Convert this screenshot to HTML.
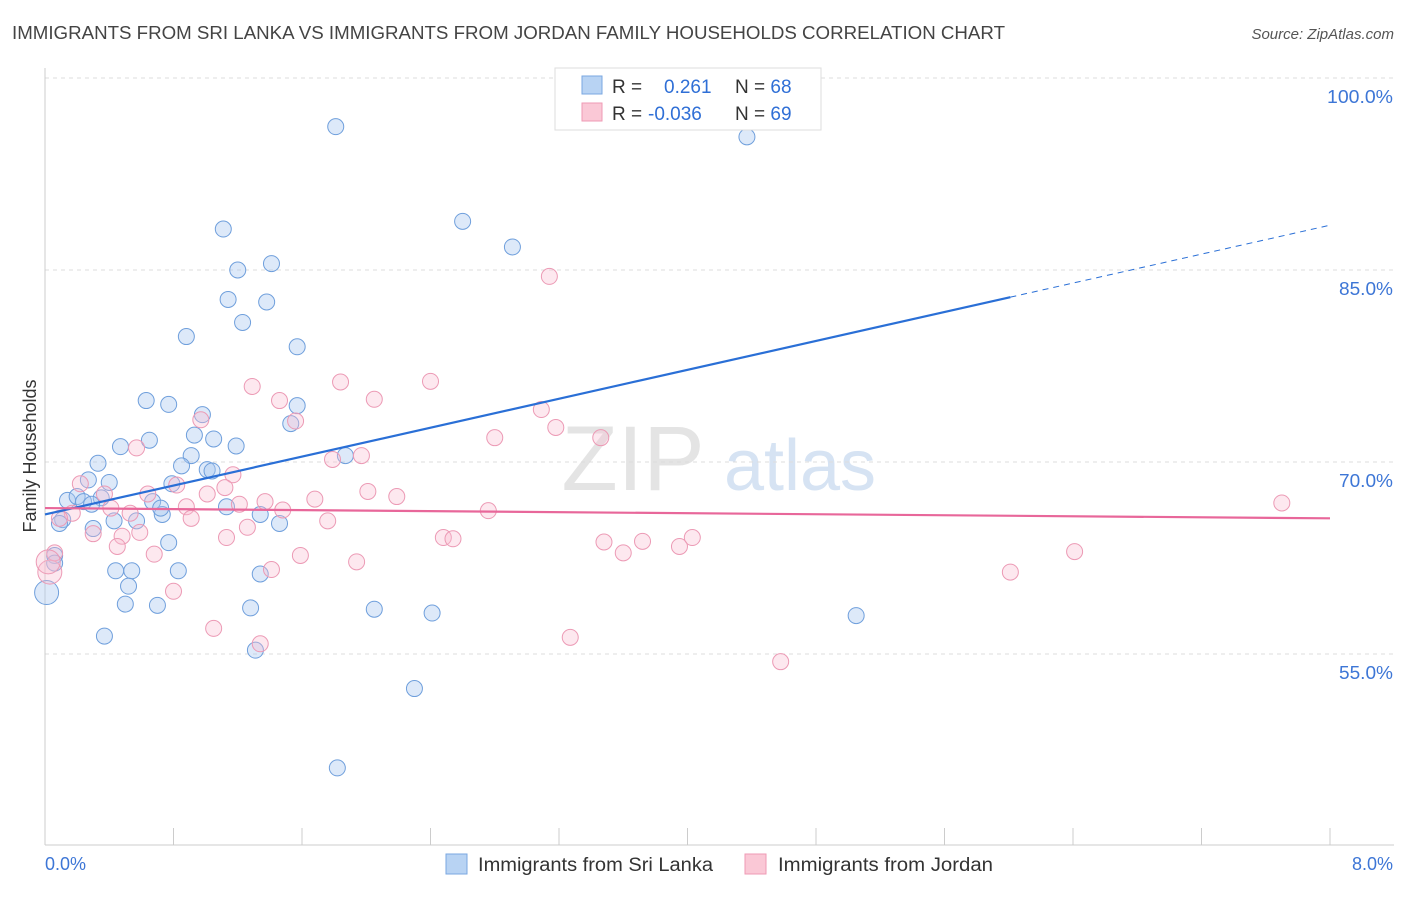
<!DOCTYPE html>
<html><head><meta charset="utf-8">
<style>
body{margin:0;background:#fff;font-family:"Liberation Sans",sans-serif;}
svg text{font-family:"Liberation Sans",sans-serif;}
</style></head>
<body>
<svg id="chart" width="1406" height="892">
<text x="12" y="39" font-size="18" fill="#444" textLength="993" lengthAdjust="spacingAndGlyphs">IMMIGRANTS FROM SRI LANKA VS IMMIGRANTS FROM JORDAN FAMILY HOUSEHOLDS CORRELATION CHART</text>
<text x="1394" y="39" font-size="15" fill="#555" text-anchor="end" font-style="italic">Source: ZipAtlas.com</text>
<text x="36" y="456" font-size="18" fill="#333" text-anchor="middle" transform="rotate(-90 36 456)">Family Households</text>
<g><text x="633" y="490" font-size="92" fill="#e4e4e4" font-family="Liberation Serif" text-anchor="middle">ZIP</text><text x="800" y="490" font-size="72" fill="#d6e3f3" text-anchor="middle">atlas</text></g>
<g id="grid"></g><g id="axes"></g><g id="pts"></g><g id="lines"></g>
<g>
<rect x="555" y="68" width="266" height="62" fill="#fff" stroke="#ddd"/>
<rect x="582" y="76" width="20" height="18" fill="#b8d3f3" stroke="#7aa7e0"/>
<rect x="582" y="103" width="20" height="18" fill="#fac8d6" stroke="#ef9ab4"/>
<text x="612" y="93" font-size="19" fill="#333">R = <tspan fill="#2f6fd6" x="664">0.261</tspan><tspan x="735" fill="#333">N = </tspan><tspan fill="#2f6fd6">68</tspan></text>
<text x="612" y="120" font-size="19" fill="#333">R = <tspan fill="#2f6fd6" x="648">-0.036</tspan><tspan x="735" fill="#333">N = </tspan><tspan fill="#2f6fd6">69</tspan></text>
</g>
<g>
<rect x="446" y="854" width="21" height="20" fill="#b8d3f3" stroke="#7aa7e0"/>
<text x="478" y="871" font-size="19" fill="#333" textLength="235" lengthAdjust="spacingAndGlyphs">Immigrants from Sri Lanka</text>
<rect x="745" y="854" width="21" height="20" fill="#fac8d6" stroke="#ef9ab4"/>
<text x="778" y="871" font-size="19" fill="#333" textLength="215" lengthAdjust="spacingAndGlyphs">Immigrants from Jordan</text>
</g>
</svg>
<script>
const blueX=[1.81,4.37,2.60,2.91,1.11,1.41,1.20,1.14,1.38,1.23,0.88,1.57,0.63,0.77,0.98,1.57,1.53,0.65,0.93,1.05,1.19,0.47,0.33,0.91,0.85,1.01,1.04,1.87,0.40,0.27,0.79,0.14,0.20,0.24,0.35,0.67,0.73,0.72,0.57,0.43,0.11,0.09,0.29,1.13,1.34,1.46,0.30,0.77,0.06,0.06,0.01,0.44,0.54,0.83,1.34,0.52,0.50,0.70,1.28,2.05,2.41,5.05,0.37,1.31,2.30,1.82];
const blueY=[96.2,95.4,88.8,86.8,88.2,85.5,85.0,82.7,82.5,80.9,79.8,79.0,74.8,74.5,73.7,74.4,73.0,71.7,72.1,71.8,71.25,71.2,69.9,70.5,69.7,69.4,69.3,70.5,68.4,68.6,68.3,67.0,67.3,66.9,67.2,66.9,65.9,66.4,65.4,65.4,65.5,65.2,66.7,66.5,65.9,65.2,64.8,63.7,62.7,62.1,59.8,61.5,61.5,61.5,61.25,60.3,58.9,58.8,58.6,58.5,58.2,58.0,56.4,55.3,52.3,46.1];
const pinkX=[3.14,1.29,1.84,2.40,2.05,1.46,3.09,1.56,2.80,3.18,3.46,0.97,0.57,1.79,1.97,1.17,0.82,0.22,0.37,0.64,1.01,1.12,2.01,2.19,1.68,1.37,1.21,1.48,0.88,0.41,0.53,0.17,0.09,0.91,1.76,1.26,0.30,0.48,0.59,1.13,2.48,2.54,2.76,3.48,3.72,3.60,3.95,4.03,0.45,0.68,1.59,0.06,0.03,0.02,1.94,1.41,0.80,1.05,1.34,3.27,4.58,6.01,6.41,7.70];
const pinkY=[84.5,75.9,76.25,76.3,74.9,74.8,74.1,73.2,71.9,72.7,71.9,73.3,71.1,70.2,70.5,69.0,68.2,68.3,67.5,67.5,67.5,68.0,67.7,67.3,67.1,66.9,66.7,66.25,66.5,66.4,66.0,66.0,65.6,65.6,65.4,64.9,64.4,64.2,64.5,64.1,64.1,64.0,66.2,63.75,63.8,62.9,63.4,64.1,63.4,62.8,62.7,62.9,61.4,62.2,62.2,61.6,59.9,57.0,55.8,56.3,54.4,61.4,63.0,66.8];
const yTicks=[100,85,70,55];
const xTickLabels=["0.0%","8.0%"];
const blueTrend=[65.9,88.5]; const pinkTrend=[66.4,65.6];
const NS="http://www.w3.org/2000/svg";
const xs=v=>45+v/8*1285, ys=v=>78+(100-v)*12.8;
function mk(p,t,a){const e=document.createElementNS(NS,t);for(const k in a)e.setAttribute(k,a[k]);document.getElementById(p).appendChild(e);return e;}
yTicks.forEach(t=>{const l=mk('grid','line',{x1:45,x2:1394,y1:ys(t),y2:ys(t),stroke:'#ddd','stroke-dasharray':'4,4'});


const tx=mk('grid','text',{x:1393,y:ys(t)+25,'font-size':18,fill:'#3d76d6','text-anchor':'end',textLength:t===100?66:54,lengthAdjust:'spacingAndGlyphs'});tx.textContent=t.toFixed(1)+'%';

});
mk('axes','line',{x1:45,x2:45,y1:68,y2:845,stroke:'#ccc'});
mk('axes','line',{x1:45,x2:1394,y1:845,y2:845,stroke:'#ccc'});
for(let i=0;i<=10;i++){mk('axes','line',{x1:xs(i*0.8),x2:xs(i*0.8),y1:828,y2:845,stroke:'#ccc'});}
const l0=mk('axes','text',{x:45,y:870,'font-size':18,fill:'#3d76d6'});l0.textContent=xTickLabels[0];


const l1=mk('axes','text',{x:1393,y:870,'font-size':18,fill:'#3d76d6','text-anchor':'end'});l1.textContent=xTickLabels[1];


blueX.forEach((x,i)=>{const c=mk('pts','circle',{cx:xs(x),cy:ys(blueY[i]),r:x<0.05?12:8,fill:'rgba(170,200,240,0.4)',stroke:'#6f9fdc','stroke-width':1});

});
pinkX.forEach((x,i)=>{const c=mk('pts','circle',{cx:xs(x),cy:ys(pinkY[i]),r:x<0.05?12:8,fill:'rgba(248,190,210,0.35)',stroke:'#ec9ab5','stroke-width':1});

});
const bAt=x=>blueTrend[0]+(blueTrend[1]-blueTrend[0])*x/8;
const b1=mk('lines','line',{x1:xs(0),y1:ys(bAt(0)),x2:xs(6.01),y2:ys(bAt(6.01)),stroke:'#2a6fd6','stroke-width':2.2});


const b2=mk('lines','line',{x1:xs(6.01),y1:ys(bAt(6.01)),x2:xs(8),y2:ys(bAt(8)),stroke:'#2a6fd6','stroke-width':1,'stroke-dasharray':'6,5'});


const p1=mk('lines','line',{x1:xs(0),y1:ys(pinkTrend[0]),x2:xs(8),y2:ys(pinkTrend[1]),stroke:'#e8679a','stroke-width':2.2});


</script>
</body></html>
